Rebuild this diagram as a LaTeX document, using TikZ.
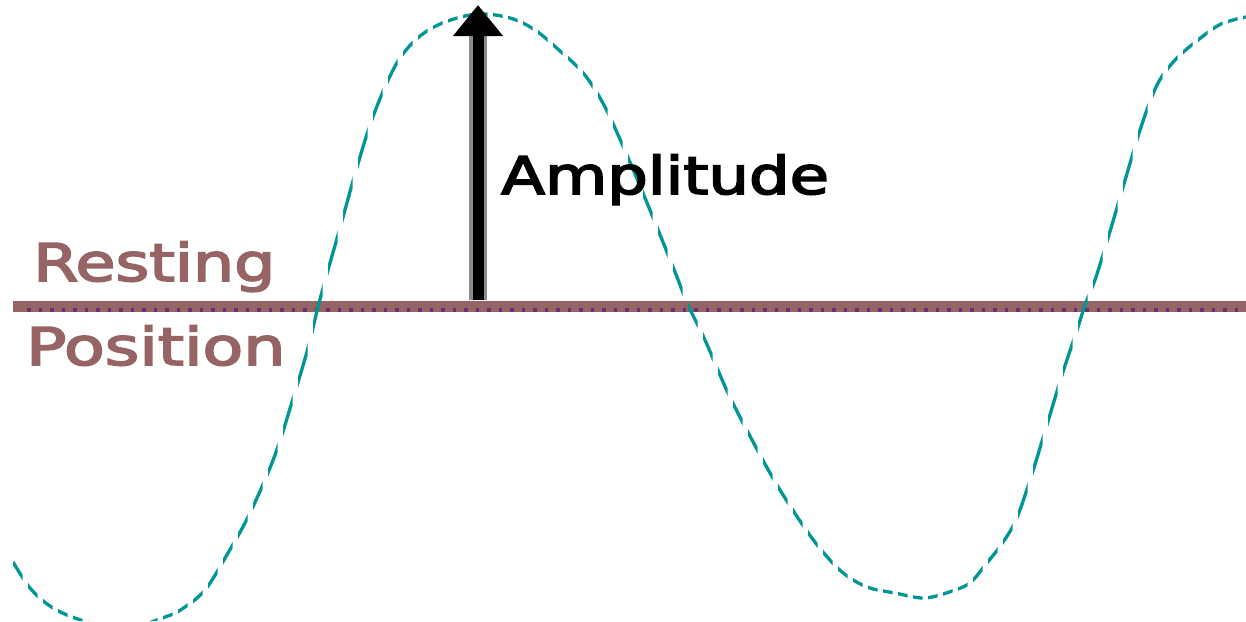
\documentclass[tikz,border=0pt]{standalone}
\usepackage{fontspec}
\setmainfont{DejaVu Sans}
\newfontfamily\lblfont{DejaVu Sans}[FakeBold=3]
\usetikzlibrary{arrows.meta}
\definecolor{wavecol}{RGB}{0,150,150}
\definecolor{restcol}{RGB}{150,100,100}
\definecolor{dotcol}{RGB}{100,50,110}
\definecolor{shaftgray}{RGB}{140,140,140}
\tikzset{
  wavestyle/.style={draw=wavecol, line width=3.3pt},
  reststyle/.style={draw=restcol, line width=11pt},
  restdots/.style={draw=dotcol, line width=3.6pt, dash pattern=on 3.6pt off 7.9pt},
  lbl/.style={inner sep=0pt, anchor=base west, font=\lblfont\fontsize{52}{60}\selectfont},
}
\begin{document}
\begin{tikzpicture}[x=1pt,y=-1pt]
\useasboundingbox (0,0) rectangle (1246,621);
\fill[white] (0,0) rectangle (1246,621);
% resting line
\coordinate (restL) at (13,306.2);
\coordinate (restR) at (1246,306.2);
\coordinate (dotL) at (27,310);
\coordinate (dotR) at (1246,310);
\draw[reststyle] (restL) -- (restR);
\draw[restdots] (dotL) -- (dotR);
% wave (dashes spaced evenly in x)
\begin{scope}
\clip foreach \k in {0,...,82} {(13+15*\k,0) rectangle ++(9.5,621)};
\draw[wavestyle] plot[smooth, tension=0.55] coordinates {
(13,562) (30,588) (50,606) (75,618) (120,630) (165,617) (182,609) (205,590)
(228,553) (250,513) (275,455) (295,392) (308,348) (318,307) (328,270) (340,228)
(355,174) (370,125) (385,87) (400,58) (420,36) (445,22) (478,14) (510,18)
(535,30) (560,51) (584,74) (605,107) (629,160) (652,215) (675,272) (688,305)
(705,340) (728,393) (751,438) (774,480) (796,515) (818,546) (842,572) (867,587)
(895,593) (925,598) (955,590) (971,582) (986,564) (1001,545) (1016,520)
(1031,477) (1046,428) (1062,375) (1077,330) (1085,305) (1096,277) (1111,228)
(1126,177) (1141,127) (1157,85) (1175,60) (1198,40) (1221,24) (1246,17)};
\end{scope}
% amplitude arrow
\coordinate (base) at (478,300);
\coordinate (top) at (478,5);
\coordinate (headbase) at (478,36);
\draw[shaftgray, line width=18pt] (base) -- (headbase);
\draw[black, line width=11pt, -{Triangle[length=31pt,width=48pt]}] (base) -- (top);
% labels
\node[lbl] (amp) at (501,194) {\scalebox{1.23}[1]{Amplitude}};
\node[lbl, text=restcol] (rest) at (33,281) {\scalebox{1.25}[1]{Resting}};
\node[lbl, text=restcol] (pos) at (26,365) {\scalebox{1.28}[1]{Position}};
\end{tikzpicture}
\end{document}
